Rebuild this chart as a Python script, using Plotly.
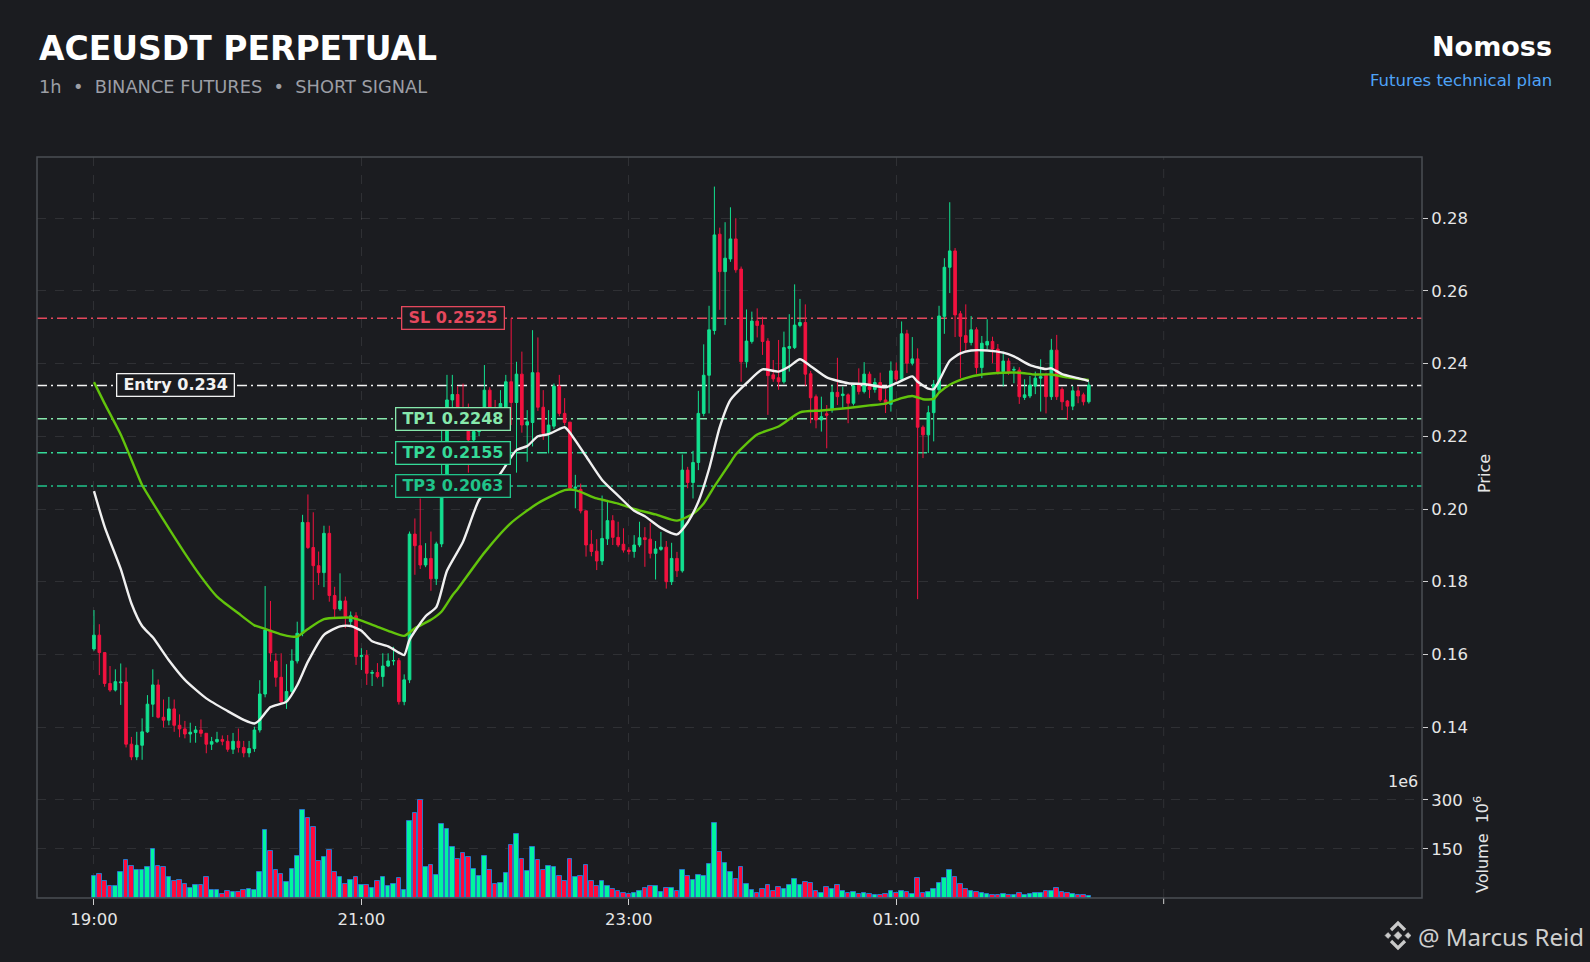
import plotly.graph_objects as go
import pandas as pd

# ---- candles (price), one value per bar ----
opens = [0.1615, 0.1653, 0.1605, 0.1520, 0.1502, 0.1522, 0.1524, 0.1353, 0.1318, 0.1350,
         0.1387, 0.1463, 0.1516, 0.1427, 0.1419, 0.1450, 0.1405, 0.1395, 0.1381, 0.1385,
         0.1392, 0.1383, 0.1353, 0.1360, 0.1366, 0.1361, 0.1339, 0.1361, 0.1344, 0.1329,
         0.1341, 0.1392, 0.1491, 0.1667, 0.1582, 0.1537, 0.1470, 0.1498, 0.1582, 0.1658,
         0.1963, 0.1894, 0.1844, 0.1825, 0.1933, 0.1762, 0.1725, 0.1747, 0.1690, 0.1706,
         0.1594, 0.1597, 0.1548, 0.1550, 0.1539, 0.1568, 0.1582, 0.1583, 0.1470, 0.1530,
         0.1931, 0.1899, 0.1846, 0.1864, 0.1808, 0.1904, 0.2040, 0.2300, 0.2315, 0.2272,
         0.2230, 0.2190, 0.2213, 0.2260, 0.2327, 0.2272, 0.2260, 0.2280, 0.2350, 0.2293,
         0.2371, 0.2231, 0.2238, 0.2375, 0.2280, 0.2208, 0.2228, 0.2338, 0.2263, 0.2239,
         0.2057, 0.2054, 0.1995, 0.1903, 0.1884, 0.1857, 0.1918, 0.1968, 0.1922, 0.1903,
         0.1887, 0.1883, 0.1901, 0.1921, 0.1917, 0.1878, 0.1889, 0.1895, 0.1800, 0.1864,
         0.1830, 0.2107, 0.2073, 0.2128, 0.2263, 0.2368, 0.2491, 0.2756, 0.2653, 0.2688,
         0.2743, 0.2660, 0.2405, 0.2461, 0.2517, 0.2506, 0.2462, 0.2369, 0.2361, 0.2350,
         0.2442, 0.2444, 0.2505, 0.2513, 0.2372, 0.2309, 0.2245, 0.2262, 0.2273, 0.2321,
         0.2312, 0.2314, 0.2291, 0.2343, 0.2323, 0.2371, 0.2329, 0.2348, 0.2300, 0.2288,
         0.2380, 0.2357, 0.2482, 0.2401, 0.2413, 0.2225, 0.2204, 0.2265, 0.2328, 0.2530,
         0.2665, 0.2710, 0.2537, 0.2477, 0.2458, 0.2493, 0.2389, 0.2451, 0.2461, 0.2440,
         0.2378, 0.2407, 0.2382, 0.2382, 0.2307, 0.2311, 0.2338, 0.2360, 0.2369, 0.2309,
         0.2437, 0.2329, 0.2297, 0.2283, 0.2325, 0.2314, 0.2295]
highs = [0.1722, 0.1683, 0.1605, 0.1568, 0.1559, 0.1575, 0.1564, 0.1373, 0.1387, 0.1424,
         0.1488, 0.1559, 0.1531, 0.1476, 0.1483, 0.1476, 0.1435, 0.1417, 0.1412, 0.1403,
         0.1421, 0.1383, 0.1373, 0.1387, 0.1377, 0.1378, 0.1384, 0.1396, 0.1362, 0.1362,
         0.1401, 0.1529, 0.1788, 0.1747, 0.1603, 0.1603, 0.1573, 0.1614, 0.1690, 0.1984,
         0.2040, 0.1991, 0.1883, 0.1954, 0.1954, 0.1786, 0.1823, 0.1759, 0.1718, 0.1716,
         0.1617, 0.1612, 0.1557, 0.1576, 0.1603, 0.1603, 0.1621, 0.1590, 0.1545, 0.1938,
         0.1974, 0.2029, 0.1906, 0.1938, 0.1910, 0.2220, 0.2369, 0.2369, 0.2338, 0.2345,
         0.2290, 0.2240, 0.2280, 0.2396, 0.2335, 0.2300, 0.2327, 0.2369, 0.2525, 0.2405,
         0.2433, 0.2272, 0.2492, 0.2472, 0.2327, 0.2272, 0.2345, 0.2369, 0.2305, 0.2239,
         0.2094, 0.2070, 0.1995, 0.1942, 0.1917, 0.2037, 0.2025, 0.1983, 0.1965, 0.1947,
         0.1895, 0.1928, 0.1965, 0.1950, 0.1962, 0.1912, 0.1937, 0.1912, 0.1907, 0.1882,
         0.2150, 0.2116, 0.2160, 0.2325, 0.2453, 0.2559, 0.2887, 0.2774, 0.2789, 0.2830,
         0.2800, 0.2667, 0.2549, 0.2543, 0.2552, 0.2529, 0.2470, 0.2410, 0.2465, 0.2488,
         0.2536, 0.2618, 0.2578, 0.2563, 0.2380, 0.2315, 0.2309, 0.2286, 0.2341, 0.2416,
         0.2337, 0.2318, 0.2343, 0.2387, 0.2404, 0.2378, 0.2360, 0.2375, 0.2330, 0.2406,
         0.2403, 0.2516, 0.2493, 0.2473, 0.2442, 0.2230, 0.2284, 0.2355, 0.2559, 0.2690,
         0.2844, 0.2718, 0.2545, 0.2563, 0.2531, 0.2500, 0.2476, 0.2522, 0.2474, 0.2454,
         0.2433, 0.2415, 0.2392, 0.2390, 0.2357, 0.2366, 0.2378, 0.2412, 0.2375, 0.2468,
         0.2479, 0.2335, 0.2300, 0.2338, 0.2337, 0.2320, 0.2350]
lows = [0.1610, 0.1543, 0.1511, 0.1497, 0.1498, 0.1461, 0.1344, 0.1309, 0.1309, 0.1310,
        0.1384, 0.1428, 0.1424, 0.1399, 0.1405, 0.1387, 0.1372, 0.1369, 0.1357, 0.1357,
        0.1373, 0.1328, 0.1337, 0.1356, 0.1350, 0.1332, 0.1326, 0.1330, 0.1317, 0.1317,
        0.1332, 0.1385, 0.1482, 0.1580, 0.1511, 0.1465, 0.1450, 0.1490, 0.1575, 0.1650,
        0.1890, 0.1750, 0.1791, 0.1785, 0.1745, 0.1699, 0.1720, 0.1672, 0.1680, 0.1571,
        0.1557, 0.1516, 0.1513, 0.1534, 0.1511, 0.1565, 0.1570, 0.1462, 0.1460, 0.1521,
        0.1819, 0.1835, 0.1840, 0.1775, 0.1791, 0.1895, 0.2030, 0.2280, 0.2250, 0.2215,
        0.2100, 0.2180, 0.2200, 0.2250, 0.2250, 0.2230, 0.2250, 0.2272, 0.2231, 0.2100,
        0.2210, 0.2130, 0.2172, 0.2270, 0.2190, 0.2153, 0.2220, 0.2255, 0.2230, 0.2050,
        0.2002, 0.1988, 0.1869, 0.1870, 0.1832, 0.1846, 0.1901, 0.1901, 0.1895, 0.1880,
        0.1875, 0.1866, 0.1895, 0.1841, 0.1864, 0.1806, 0.1885, 0.1781, 0.1791, 0.1813,
        0.1825, 0.2057, 0.2029, 0.2107, 0.2255, 0.2263, 0.2480, 0.2548, 0.2506, 0.2680,
        0.2650, 0.2350, 0.2389, 0.2455, 0.2472, 0.2424, 0.2259, 0.2350, 0.2328, 0.2345,
        0.2378, 0.2440, 0.2500, 0.2339, 0.2236, 0.2222, 0.2213, 0.2167, 0.2265, 0.2286,
        0.2277, 0.2236, 0.2285, 0.2315, 0.2318, 0.2305, 0.2320, 0.2295, 0.2264, 0.2268,
        0.2350, 0.2350, 0.2374, 0.2395, 0.1752, 0.2140, 0.2154, 0.2186, 0.2320, 0.2482,
        0.2594, 0.2473, 0.2360, 0.2429, 0.2450, 0.2372, 0.2360, 0.2440, 0.2401, 0.2370,
        0.2337, 0.2369, 0.2346, 0.2289, 0.2300, 0.2305, 0.2316, 0.2268, 0.2263, 0.2300,
        0.2300, 0.2272, 0.2245, 0.2272, 0.2291, 0.2285, 0.2290]
closes = [0.1653, 0.1605, 0.1520, 0.1502, 0.1525, 0.1524, 0.1353, 0.1318, 0.1350, 0.1387,
          0.1463, 0.1516, 0.1427, 0.1419, 0.1450, 0.1405, 0.1395, 0.1381, 0.1386, 0.1392,
          0.1383, 0.1353, 0.1360, 0.1366, 0.1361, 0.1339, 0.1361, 0.1344, 0.1329, 0.1341,
          0.1392, 0.1491, 0.1667, 0.1604, 0.1537, 0.1470, 0.1498, 0.1582, 0.1658, 0.1963,
          0.1894, 0.1844, 0.1825, 0.1933, 0.1762, 0.1725, 0.1747, 0.1704, 0.1706, 0.1594,
          0.1597, 0.1548, 0.1550, 0.1539, 0.1568, 0.1582, 0.1583, 0.1470, 0.1530, 0.1931,
          0.1899, 0.1846, 0.1864, 0.1808, 0.1904, 0.2040, 0.2300, 0.2315, 0.2272, 0.2230,
          0.2190, 0.2213, 0.2260, 0.2327, 0.2272, 0.2260, 0.2290, 0.2350, 0.2293, 0.2371,
          0.2231, 0.2240, 0.2375, 0.2280, 0.2208, 0.2231, 0.2338, 0.2263, 0.2238, 0.2057,
          0.2060, 0.1995, 0.1901, 0.1883, 0.1857, 0.1919, 0.1968, 0.1922, 0.1901, 0.1887,
          0.1883, 0.1901, 0.1921, 0.1916, 0.1878, 0.1890, 0.1895, 0.1800, 0.1864, 0.1830,
          0.2107, 0.2073, 0.2128, 0.2263, 0.2368, 0.2493, 0.2754, 0.2653, 0.2690, 0.2743,
          0.2658, 0.2405, 0.2462, 0.2517, 0.2505, 0.2461, 0.2367, 0.2358, 0.2350, 0.2444,
          0.2447, 0.2506, 0.2513, 0.2371, 0.2306, 0.2245, 0.2254, 0.2258, 0.2321, 0.2309,
          0.2316, 0.2291, 0.2339, 0.2323, 0.2371, 0.2329, 0.2348, 0.2300, 0.2288, 0.2380,
          0.2357, 0.2482, 0.2401, 0.2413, 0.2225, 0.2204, 0.2265, 0.2343, 0.2531, 0.2665,
          0.2710, 0.2534, 0.2475, 0.2458, 0.2493, 0.2389, 0.2456, 0.2461, 0.2440, 0.2378,
          0.2407, 0.2378, 0.2384, 0.2309, 0.2314, 0.2341, 0.2360, 0.2364, 0.2309, 0.2437,
          0.2309, 0.2295, 0.2283, 0.2325, 0.2311, 0.2295, 0.2341]
# volume in millions
volumes = [66, 75, 51, 38, 38, 79, 116, 97, 85, 85, 94, 150, 97, 94, 63, 51, 54, 44, 32, 41,
           41, 63, 26, 23, 13, 20, 17, 17, 23, 29, 26, 79, 209, 145, 85, 72, 48, 88, 128, 268,
           246, 218, 113, 125, 147, 79, 63, 44, 54, 63, 41, 41, 32, 51, 63, 38, 44, 60, 26, 237,
           259, 299, 94, 100, 69, 228, 212, 156, 119, 138, 125, 88, 66, 128, 85, 42, 45, 76, 161, 195,
           118, 82, 155, 115, 85, 97, 94, 66, 51, 118, 63, 66, 100, 51, 36, 51, 36, 27, 20, 15,
           12, 16, 20, 30, 36, 36, 18, 30, 30, 22, 85, 66, 54, 69, 66, 103, 229, 140, 106, 79,
           57, 94, 42, 24, 16, 27, 39, 20, 33, 27, 39, 57, 39, 48, 45, 20, 15, 33, 27, 39,
           22, 15, 18, 12, 15, 12, 10, 10, 12, 20, 15, 22, 18, 12, 60, 14, 18, 27, 45, 60,
           85, 63, 42, 27, 20, 18, 14, 12, 10, 8, 12, 10, 8, 14, 10, 12, 14, 15, 20, 22,
           30, 18, 14, 12, 10, 8, 6]

# moving averages, sampled at bar indices
ma_fast_idx = [0, 2, 5, 7, 9, 11, 14, 17, 21, 25, 28, 30, 31, 33, 36, 38, 40, 43, 46, 48,
               50, 52, 55, 57, 58, 59, 62, 64, 66, 69, 72, 76, 79, 81, 83, 85, 87, 88, 89, 92,
               95, 98, 101, 103, 106, 109, 111, 113, 115, 117, 119, 122, 125, 128, 130, 132, 134, 137, 141, 144,
               148, 150, 153, 154, 156, 157, 158, 160, 162, 164, 167, 170, 172, 175, 178, 179, 181, 184, 186]
ma_fast = [0.2049, 0.1951, 0.1835, 0.1740, 0.1678, 0.1647, 0.1584, 0.1530, 0.1479, 0.1444,
           0.1420, 0.1410, 0.1420, 0.1455, 0.1470, 0.1515, 0.1580, 0.1654, 0.1677, 0.1678,
           0.1665, 0.1636, 0.1622, 0.1605, 0.1598, 0.1640, 0.1705, 0.1730, 0.1830, 0.1910,
           0.2025, 0.2098, 0.2162, 0.2173, 0.2200, 0.2206, 0.2220, 0.2225, 0.2210, 0.2145,
           0.2080, 0.2037, 0.1995, 0.1980, 0.1948, 0.1930, 0.1963, 0.2020, 0.2110, 0.2225,
           0.2300, 0.2346, 0.2384, 0.2378, 0.2392, 0.2412, 0.2393, 0.2362, 0.2346, 0.2344,
           0.2335, 0.2346, 0.2365, 0.2350, 0.2331, 0.2330, 0.2352, 0.2408, 0.2428, 0.2436,
           0.2436, 0.2430, 0.2420, 0.2396, 0.2385, 0.2387, 0.2371, 0.2360, 0.2352]
ma_slow_idx = [0, 2, 5, 8, 9, 13, 17, 20, 23, 27, 30, 31, 33, 35, 37, 38, 40, 43, 46, 48,
               50, 53, 55, 58, 60, 63, 65, 67, 68, 73, 78, 83, 86, 88, 90, 94, 98, 101, 105, 109,
               112, 114, 116, 119, 120, 124, 128, 132, 136, 141, 145, 148, 151, 153, 155, 157, 158, 160, 163, 166,
               170, 173, 176, 179, 182, 186]
ma_slow = [0.2349, 0.2290, 0.2205, 0.2100, 0.2066, 0.1970, 0.1878, 0.1814, 0.1759, 0.1713,
           0.1680, 0.1675, 0.1665, 0.1655, 0.1649, 0.1649, 0.1670, 0.1697, 0.1701, 0.1701,
           0.1693, 0.1676, 0.1665, 0.1651, 0.1672, 0.1695, 0.1718, 0.1762, 0.1780, 0.1880,
           0.1962, 0.2016, 0.2039, 0.2052, 0.2052, 0.2029, 0.2015, 0.2000, 0.1985, 0.1968,
           0.1987, 0.2015, 0.2062, 0.2128, 0.2150, 0.2205, 0.2227, 0.2266, 0.2271, 0.2278,
           0.2285, 0.2290, 0.2305, 0.2311, 0.2302, 0.2303, 0.2320, 0.2342, 0.2360, 0.2370,
           0.2375, 0.2375, 0.2370, 0.2370, 0.2362, 0.2355]

# trade plan levels
level_names = ["SL", "Entry", "TP1", "TP2", "TP3"]
level_prices = [0.2525, 0.234, 0.2248, 0.2155, 0.2063]
level_colors = ["#e5485d", "#f2f2f2", "#86e8ac", "#35da98", "#20c48a"]
level_label_x = [0.30, 0.10, 0.30, 0.30, 0.30]

price_ticks = [0.14, 0.16, 0.18, 0.20, 0.22, 0.24, 0.26, 0.28]
volume_ticks = [150, 300]
time_tick_vals = ["2024-01-01 19:00", "2024-01-01 21:00", "2024-01-01 23:00", "2024-01-02 01:00"]
time_tick_text = ["19:00", "21:00", "23:00", "01:00"]
unlabelled_tick = "2024-01-02 03:00"

times = pd.date_range("2024-01-01 19:00", periods=len(closes), freq="144s")

BG = "#1b1c20"
UP = "#12e08f"
DOWN = "#f2123f"
TXT = "#e6e6e6"
FONT = "DejaVu Sans"
GRID = "rgba(255,255,255,0.09)"

# pixel helpers for the page furniture (plot area: x 37..1422, y 157..898)
L, R, T, B = 37, 1422, 157, 898
def px(x):
    return (x - L) / (R - L)
def py(y):
    return (B - y) / (B - T)

fig = go.Figure()

vol_colors = ["#00f59e" if c >= o else "#ff0a3c" for o, c in zip(opens, closes)]
fig.add_trace(go.Bar(
    x=times, y=volumes, yaxis="y2", width=144000 * 0.86,
    marker=dict(color=vol_colors, line=dict(color="#2a78c8", width=1)),
    showlegend=False, hoverinfo="skip"))

fig.add_trace(go.Candlestick(
    x=times, open=opens, high=highs, low=lows, close=closes, yaxis="y",
    increasing=dict(line=dict(color=UP, width=1), fillcolor=UP),
    decreasing=dict(line=dict(color=DOWN, width=1), fillcolor=DOWN),
    whiskerwidth=0, showlegend=False))

fig.add_trace(go.Scatter(
    x=times[ma_slow_idx], y=ma_slow, mode="lines", yaxis="y",
    line=dict(color="#62c40c", width=2.4, shape="spline", smoothing=0.6),
    showlegend=False, hoverinfo="skip"))
fig.add_trace(go.Scatter(
    x=times[ma_fast_idx], y=ma_fast, mode="lines", yaxis="y",
    line=dict(color="#f0f0f0", width=2.4, shape="spline", smoothing=0.6),
    showlegend=False, hoverinfo="skip"))

shapes = []
annotations = []
for name, price, col, lx in zip(level_names, level_prices, level_colors, level_label_x):
    shapes.append(dict(type="line", xref="paper", x0=0, x1=1, yref="y", y0=price, y1=price,
                       line=dict(color=col, width=1.5, dash="10px,4px,2px,4px"), layer="between"))
    annotations.append(dict(
        xref="paper", x=lx, yref="y", y=price, xanchor="center", yanchor="middle",
        text=f"\u00a0<b>{name} {price:g}</b>\u00a0", showarrow=False,
        font=dict(family=FONT, size=16, color=col),
        bgcolor=BG, bordercolor=col, borderwidth=1.3, borderpad=1))

# the unlabelled 03:00 tick: grid line and tick mark
shapes.append(dict(type="line", xref="x", yref="paper", x0=unlabelled_tick, x1=unlabelled_tick,
                   y0=0, y1=1, line=dict(color=GRID, width=1, dash="dash"), layer="between"))
shapes.append(dict(type="line", xref="x", yref="paper", x0=unlabelled_tick, x1=unlabelled_tick,
                   y0=0, y1=-6 / (B - T), line=dict(color="#cfcfcf", width=1)))

# frame
shapes.append(dict(type="rect", xref="paper", yref="paper", x0=0, x1=1, y0=0, y1=1,
                   line=dict(color="#4b4d53", width=1.5), layer="above"))

# binance-style logo in the watermark
def path(points, close=True):
    s = "M " + " L ".join(f"{px(x):.5f},{py(y):.5f}" for x, y in points)
    return s + (" Z" if close else "")
logo_col = "#c9c9c9"
for pts in ([(1398, 931.5), (1402, 935.5), (1398, 939.5), (1394, 935.5)],
            [(1388, 932.5), (1391, 935.5), (1388, 938.5), (1385, 935.5)],
            [(1408, 932.5), (1411, 935.5), (1408, 938.5), (1405, 935.5)]):
    shapes.append(dict(type="path", xref="paper", yref="paper", path=path(pts),
                       fillcolor=logo_col, line=dict(color=logo_col, width=0.5)))
for pts in ([(1391, 930), (1398, 923), (1405, 930)], [(1391, 941), (1398, 948), (1405, 941)]):
    shapes.append(dict(type="path", xref="paper", yref="paper", path=path(pts, close=False),
                       line=dict(color=logo_col, width=3.2)))

def note(x, y, text, size, color, xanchor="left", angle=0, family=FONT):
    annotations.append(dict(xref="paper", yref="paper", x=px(x), y=py(y), text=text,
                            showarrow=False, xanchor=xanchor, yanchor="middle", textangle=angle,
                            font=dict(family=family, size=size, color=color)))

nb = "\u00a0"
note(37, 49, "<b>ACEUSDT PERPETUAL</b>", 33, "#ffffff")
note(37, 86, f"1h{nb*2}•{nb*2}BINANCE FUTURES{nb*2}•{nb*2}SHORT SIGNAL", 17.8, "#9c9ea5")
note(1554, 46, "<b>Nomoss</b>", 27, "#ffffff", xanchor="right")
note(1554, 80, "Futures technical plan", 16.5, "#4ea3f7", xanchor="right")
note(1484, 474, "Price", 16, TXT, xanchor="center", angle=-90)
note(1481, 845, f"Volume{nb*2}10<sup>6</sup>", 16, TXT, xanchor="center", angle=-90)
note(1420, 781, "1e6", 16, TXT, xanchor="right")
note(1416, 936, "@ Marcus Reid", 24, "#cfcfcf", family="Noto Sans")

axis_common = dict(showline=False, zeroline=False, ticks="outside", ticklen=5,
                   tickcolor="#cfcfcf", tickfont=dict(family=FONT, size=16.5, color=TXT),
                   gridcolor=GRID, griddash="dash", gridwidth=1)

fig.update_layout(
    width=1590, height=962,
    paper_bgcolor=BG, plot_bgcolor=BG,
    margin=dict(l=L, r=1590 - R, t=T, b=962 - B),
    font=dict(family=FONT, color=TXT),
    showlegend=False,
    bargap=0,
    xaxis=dict(type="date", anchor="y2",
               range=["2024-01-01 18:34:26", "2024-01-02 04:55:55"],
               tickvals=time_tick_vals, ticktext=time_tick_text,
               rangeslider=dict(visible=False), showgrid=True, **{**axis_common, "ticklen": 6}),
    yaxis=dict(domain=[0.1552, 1], range=[0.12462, 0.29684], side="right", anchor="x",
               tickvals=price_ticks, tickformat=".2f", showgrid=True, **axis_common),
    yaxis2=dict(domain=[0, 0.1552], range=[0, 352], side="right", anchor="x",
                tickvals=volume_ticks, showgrid=True, **axis_common),
    shapes=shapes,
    annotations=annotations,
)

fig.write_html("out.html", config={"displayModeBar": False},
               post_script="document.body.style.margin='0';document.body.style.overflow='hidden';")
